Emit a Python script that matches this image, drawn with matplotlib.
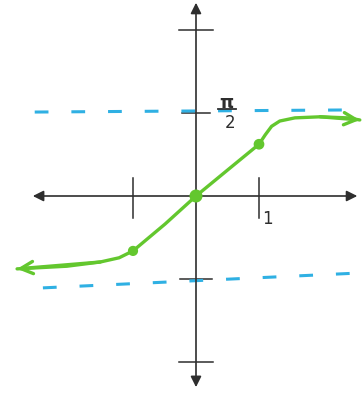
import numpy as np
import matplotlib.pyplot as plt

# hand drawn sketch of y = arctan(x)
curve_x = [-2.84, -2.05, -1.52, -1.22, -1.0, -0.49, 0.0, 0.54, 1.0, 1.10, 1.20, 1.33, 1.57, 1.97, 2.40, 2.60]
curve_y = [-1.38, -1.33, -1.25, -1.17, -1.04, -0.53, 0.0, 0.53, 0.98, 1.16, 1.32, 1.42, 1.48, 1.50, 1.48, 1.44]

dot_x = [-1.0, 0.0, 1.0]
dot_y = [-1.04, 0.0, 0.98]
dot_size = [40, 70, 45]

# asymptotes y = pi/2 and y = -pi/2 (drawn a bit crooked)
upper_x = [-2.56, 2.44]
upper_y = [1.59, 1.63]
lower_x = [-2.43, 2.56]
lower_y = [-1.74, -1.46]

# axes
x_axis = [-2.59, 2.56]
y_axis = [-3.62, 3.66]
x_ticks = [-1.0, 1.0]
y_ticks = [-np.pi, -np.pi / 2, np.pi / 2, np.pi]
y_tick_halfwidth = [0.27, 0.25, 0.22, 0.27]

GREEN = "#63c72e"
BLUE = "#2fb0e3"
INK = "#2e2e2e"

fig = plt.figure(figsize=(3.63, 3.93), dpi=100)
ax = fig.add_axes([0, 0, 1, 1])
ax.set_xlim(-196 / 63, 167 / 63)
ax.set_ylim(-197 / 52.8, 196 / 52.8)
ax.axis("off")

arrow = dict(arrowstyle="-|>", color=INK, lw=1.2, mutation_scale=16, shrinkA=0, shrinkB=0)
ax.annotate("", xy=(x_axis[1], 0), xytext=(0, 0), arrowprops=arrow)
ax.annotate("", xy=(x_axis[0], 0), xytext=(0, 0), arrowprops=arrow)
ax.annotate("", xy=(0, y_axis[1]), xytext=(0, 0), arrowprops=arrow)
ax.annotate("", xy=(0, y_axis[0]), xytext=(0, 0), arrowprops=arrow)

for t in x_ticks:
    ax.plot([t, t], [-0.42, 0.34], color=INK, lw=1.1)
for t, w in zip(y_ticks, y_tick_halfwidth):
    ax.plot([-w, w], [t, t], color=INK, lw=1.1)

ax.plot(upper_x, upper_y, color=BLUE, lw=2.2, dashes=(4.5, 7.5))
ax.plot(lower_x, lower_y, color=BLUE, lw=2.2, dashes=(4.5, 7.5))

ax.plot(curve_x, curve_y, color=GREEN, lw=2.4, solid_capstyle="round", solid_joinstyle="round")
ax.scatter(dot_x, dot_y, s=dot_size, color=GREEN, zorder=3)
tip = dict(arrowstyle="->", color=GREEN, lw=2.4, mutation_scale=22, shrinkA=0, shrinkB=0)
ax.annotate("", xy=(curve_x[-1], curve_y[-1]), xytext=(curve_x[-3], curve_y[-3]), arrowprops=tip)
ax.annotate("", xy=(curve_x[0], curve_y[0]), xytext=(curve_x[2], curve_y[2]), arrowprops=tip)

# labels
ax.text(0.48, 1.76, "π", fontsize=13, fontweight="bold", ha="center", va="center", color=INK)
ax.plot([0.35, 0.63], [1.64, 1.64], color=INK, lw=1.3)
ax.text(0.54, 1.38, "2", fontsize=12, ha="center", va="center", color=INK)
ax.text(1.14, -0.44, "1", fontsize=12, ha="center", va="center", color=INK)

plt.savefig("out.png", dpi=100)
